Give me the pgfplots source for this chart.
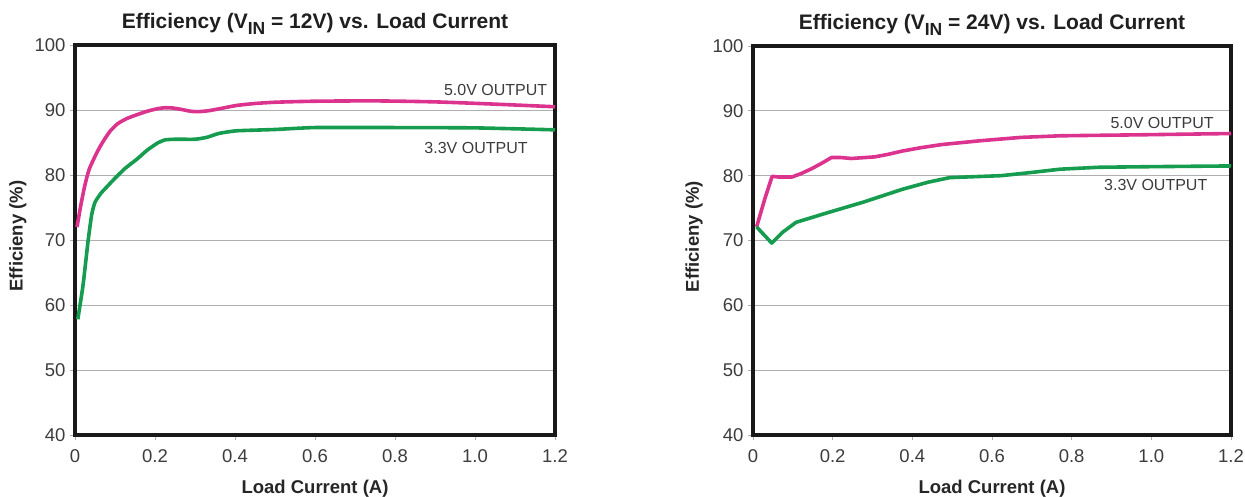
\documentclass[border=0pt]{standalone}
\usepackage{fontspec}
\setmainfont{Liberation Sans}
\usepackage{pgfplots}
\pgfplotsset{compat=1.18}
\definecolor{mag}{RGB}{220,52,142}
\definecolor{grn}{RGB}{22,156,78}
\definecolor{tickc}{RGB}{60,60,60}
\definecolor{gridc}{RGB}{175,175,175}
\pgfplotsset{
  effax/.style={
    scale only axis,
    xmin=0, xmax=1.2, ymin=40, ymax=100,
    xtick={0,0.2,0.4,0.6,0.8,1.0,1.2},
    xticklabels={0,0.2,0.4,0.6,0.8,1.0,1.2},
    ytick={40,50,60,70,80,90,100},
    ymajorgrids, grid style={gridc, line width=0.9pt},
    axis line style={black!90, line width=3.2pt},
    tick align=outside, major tick length=5pt,
    tick style={gridc, line width=0.8pt},
    xtick pos=bottom, ytick pos=left,
    /pgf/number format/assume math mode=true,
    ticklabel style={font=\fontsize{18.5}{18.5}\selectfont, text=tickc},
    xticklabel style={yshift=-6pt},
    yticklabel style={xshift=-1pt},
    xlabel={Load Current (A)},
    ylabel={Efficieny (\%)},
    label style={font=\fontsize{18.5}{18.5}\selectfont\bfseries, text=black!85},
    xlabel style={at={(axis description cs:0.5,0)}, anchor=center, yshift=-54pt},
    title style={font=\fontsize{21}{21}\selectfont\bfseries, text=black!88, at={(axis description cs:0.5,1)}, anchor=south, yshift=1pt},
    every axis plot/.append style={line width=3.6pt, line join=round},
  }
}
\begin{document}
\begin{tikzpicture}
\useasboundingbox (0,0) rectangle (1245pt,-497pt);
\begin{axis}[effax, width=480pt, height=390pt, at={(75pt,-435pt)}, anchor=south west,
  ylabel style={at={(axis description cs:-0.119,0.51)}, anchor=center},
  title={Efficiency (V\raisebox{-0.28em}{\fontsize{17.5}{17.5}\selectfont IN} = 12V) vs. Load Current}]
\addplot[mag, smooth, tension=0.4] coordinates {(0.005,72.0) (0.015,75.5) (0.025,78.5) (0.035,80.8) (0.048,82.6) (0.062,84.3) (0.077,85.8) (0.09,86.9) (0.107,87.9) (0.13,88.7) (0.156,89.3) (0.18,89.8) (0.206,90.2) (0.226,90.35) (0.245,90.3) (0.265,90.1) (0.29,89.8) (0.31,89.75) (0.335,89.9) (0.37,90.3) (0.404,90.7) (0.45,91.0) (0.503,91.2) (0.6,91.35) (0.75,91.4) (0.9,91.25) (1.05,90.9) (1.2,90.5)};
\addplot[grn, smooth, tension=0.3] coordinates {(0.007,57.8) (0.02,63) (0.033,70) (0.042,74) (0.05,75.8) (0.065,77.2) (0.08,78.2) (0.1,79.5) (0.125,81.0) (0.156,82.5) (0.18,83.8) (0.206,84.9) (0.225,85.4) (0.25,85.5) (0.3,85.5) (0.33,85.8) (0.36,86.4) (0.404,86.8) (0.5,87.0) (0.6,87.3) (0.8,87.3) (1.0,87.25) (1.2,86.95)};
\node[anchor=east, font=\fontsize{16}{16}\selectfont, text=tickc, inner sep=0pt] at (axis cs:1.181,93.1) {5.0V OUTPUT};
\node[anchor=east, font=\fontsize{16}{16}\selectfont, text=tickc, inner sep=0pt] at (axis cs:1.132,84.1) {3.3V OUTPUT};
\end{axis}
\begin{axis}[effax, width=478pt, height=389pt, at={(753pt,-435pt)}, anchor=south west,
  ylabel style={at={(axis description cs:-0.123,0.51)}, anchor=center},
  title={Efficiency (V\raisebox{-0.28em}{\fontsize{17.5}{17.5}\selectfont IN} = 24V) vs. Load Current}]
\addplot[mag] coordinates {(0.009,72.1) (0.03,76.5) (0.048,79.9) (0.063,79.8) (0.098,79.8) (0.12,80.3) (0.148,81.1) (0.175,82.0) (0.197,82.8) (0.22,82.8) (0.247,82.65) (0.306,82.9) (0.34,83.3) (0.375,83.8) (0.42,84.3) (0.474,84.8) (0.573,85.4) (0.672,85.9) (0.771,86.15) (0.969,86.3) (1.2,86.5)};
\addplot[grn] coordinates {(0.009,72.1) (0.047,69.6) (0.075,71.3) (0.108,72.8) (0.14,73.4) (0.177,74.1) (0.276,75.9) (0.375,77.9) (0.44,79.0) (0.494,79.7) (0.623,80.0) (0.7,80.5) (0.771,81.0) (0.87,81.3) (1.019,81.4) (1.2,81.5)};
\node[anchor=east, font=\fontsize{16}{16}\selectfont, text=tickc, inner sep=0pt] at (axis cs:1.157,88.2) {5.0V OUTPUT};
\node[anchor=east, font=\fontsize{16}{16}\selectfont, text=tickc, inner sep=0pt] at (axis cs:1.141,78.6) {3.3V OUTPUT};
\end{axis}
\end{tikzpicture}
\end{document}
